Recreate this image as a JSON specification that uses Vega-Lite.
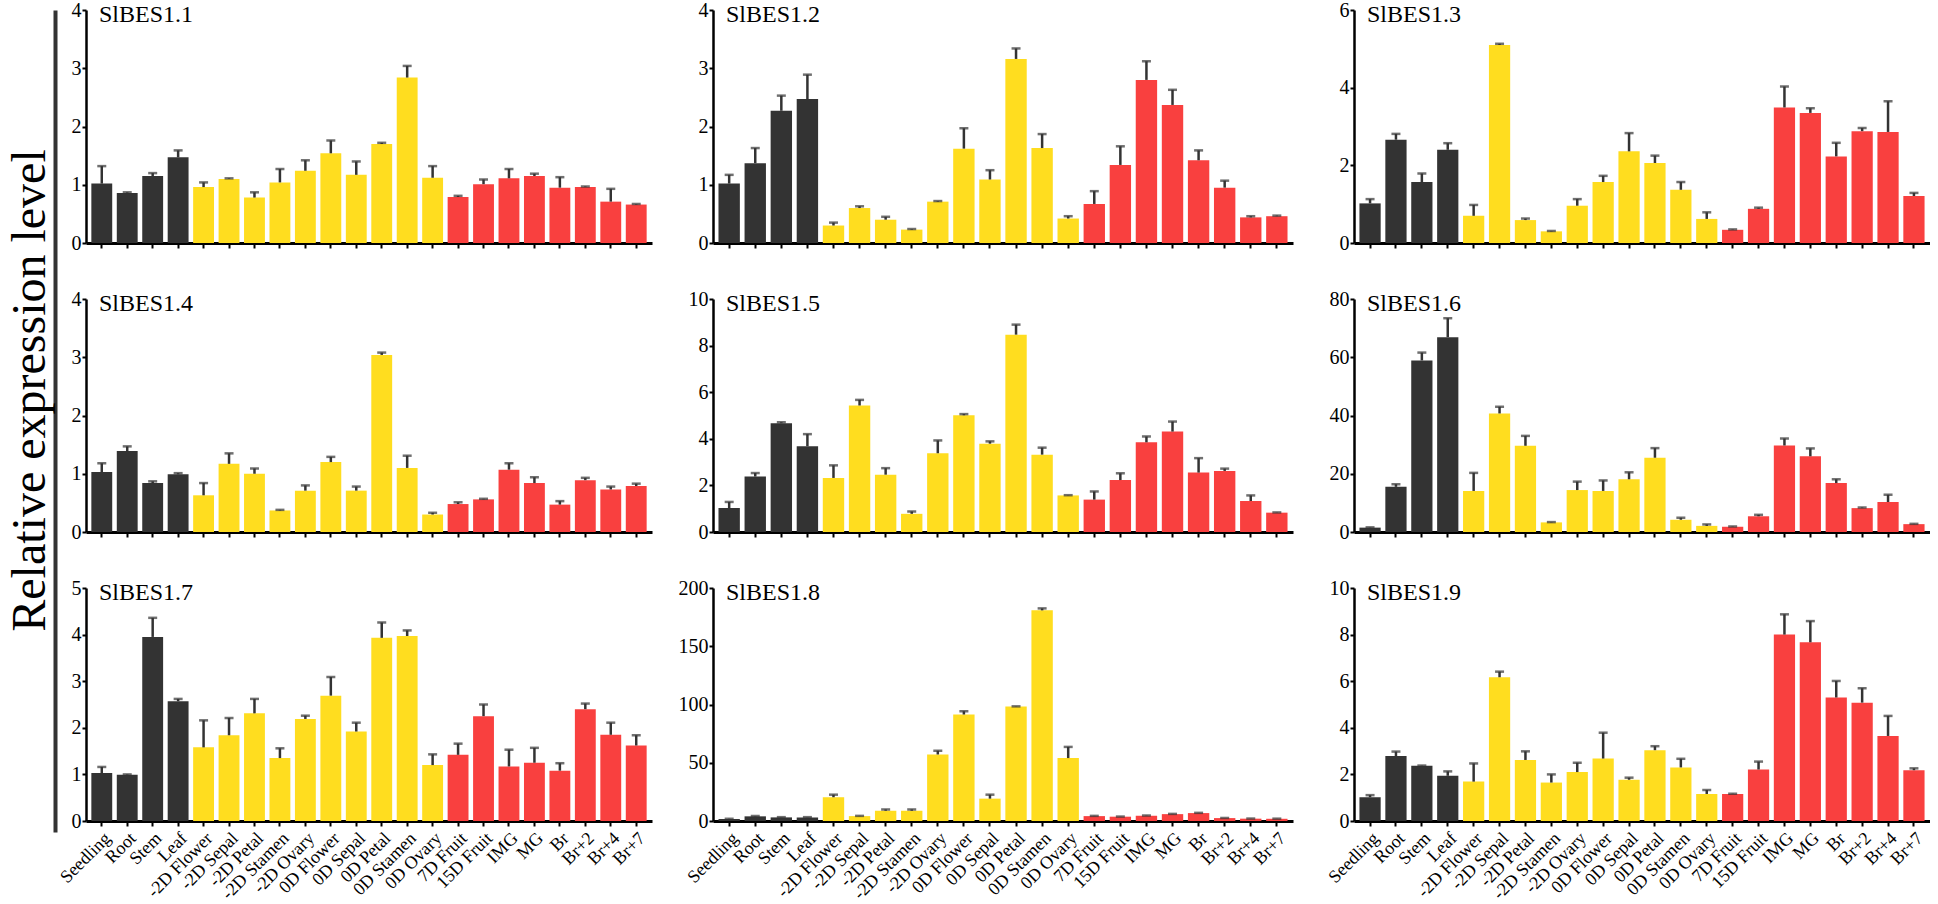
{
  "$schema": "https://vega.github.io/schema/vega-lite/v6.json",
  "padding": {"left": 6, "top": 0, "right": 0, "bottom": 0},
  "datasets": {
    "expr": [
      {"gene":"SlBES1.1","tissue":"Seedling","group":"Vegetative","value":1.02,"upper":1.32},
      {"gene":"SlBES1.1","tissue":"Root","group":"Vegetative","value":0.86,"upper":0.87},
      {"gene":"SlBES1.1","tissue":"Stem","group":"Vegetative","value":1.15,"upper":1.20},
      {"gene":"SlBES1.1","tissue":"Leaf","group":"Vegetative","value":1.47,"upper":1.59},
      {"gene":"SlBES1.1","tissue":"-2D Flower","group":"Flower","value":0.96,"upper":1.04},
      {"gene":"SlBES1.1","tissue":"-2D Sepal","group":"Flower","value":1.10,"upper":1.11},
      {"gene":"SlBES1.1","tissue":"-2D Petal","group":"Flower","value":0.78,"upper":0.87},
      {"gene":"SlBES1.1","tissue":"-2D Stamen","group":"Flower","value":1.04,"upper":1.27},
      {"gene":"SlBES1.1","tissue":"-2D Ovary","group":"Flower","value":1.24,"upper":1.42},
      {"gene":"SlBES1.1","tissue":"0D Flower","group":"Flower","value":1.54,"upper":1.76},
      {"gene":"SlBES1.1","tissue":"0D Sepal","group":"Flower","value":1.17,"upper":1.40},
      {"gene":"SlBES1.1","tissue":"0D Petal","group":"Flower","value":1.70,"upper":1.72},
      {"gene":"SlBES1.1","tissue":"0D Stamen","group":"Flower","value":2.84,"upper":3.04},
      {"gene":"SlBES1.1","tissue":"0D Ovary","group":"Flower","value":1.12,"upper":1.32},
      {"gene":"SlBES1.1","tissue":"7D Fruit","group":"Fruit","value":0.79,"upper":0.81},
      {"gene":"SlBES1.1","tissue":"15D Fruit","group":"Fruit","value":1.01,"upper":1.09},
      {"gene":"SlBES1.1","tissue":"IMG","group":"Fruit","value":1.11,"upper":1.27},
      {"gene":"SlBES1.1","tissue":"MG","group":"Fruit","value":1.15,"upper":1.19},
      {"gene":"SlBES1.1","tissue":"Br","group":"Fruit","value":0.95,"upper":1.13},
      {"gene":"SlBES1.1","tissue":"Br+2","group":"Fruit","value":0.96,"upper":0.97},
      {"gene":"SlBES1.1","tissue":"Br+4","group":"Fruit","value":0.71,"upper":0.93},
      {"gene":"SlBES1.1","tissue":"Br+7","group":"Fruit","value":0.66,"upper":0.67},

      {"gene":"SlBES1.2","tissue":"Seedling","group":"Vegetative","value":1.02,"upper":1.17},
      {"gene":"SlBES1.2","tissue":"Root","group":"Vegetative","value":1.37,"upper":1.63},
      {"gene":"SlBES1.2","tissue":"Stem","group":"Vegetative","value":2.27,"upper":2.53},
      {"gene":"SlBES1.2","tissue":"Leaf","group":"Vegetative","value":2.47,"upper":2.89},
      {"gene":"SlBES1.2","tissue":"-2D Flower","group":"Flower","value":0.30,"upper":0.35},
      {"gene":"SlBES1.2","tissue":"-2D Sepal","group":"Flower","value":0.60,"upper":0.63},
      {"gene":"SlBES1.2","tissue":"-2D Petal","group":"Flower","value":0.40,"upper":0.45},
      {"gene":"SlBES1.2","tissue":"-2D Stamen","group":"Flower","value":0.23,"upper":0.24},
      {"gene":"SlBES1.2","tissue":"-2D Ovary","group":"Flower","value":0.71,"upper":0.72},
      {"gene":"SlBES1.2","tissue":"0D Flower","group":"Flower","value":1.62,"upper":1.97},
      {"gene":"SlBES1.2","tissue":"0D Sepal","group":"Flower","value":1.09,"upper":1.25},
      {"gene":"SlBES1.2","tissue":"0D Petal","group":"Flower","value":3.16,"upper":3.34},
      {"gene":"SlBES1.2","tissue":"0D Stamen","group":"Flower","value":1.63,"upper":1.87},
      {"gene":"SlBES1.2","tissue":"0D Ovary","group":"Flower","value":0.42,"upper":0.46},
      {"gene":"SlBES1.2","tissue":"7D Fruit","group":"Fruit","value":0.67,"upper":0.89},
      {"gene":"SlBES1.2","tissue":"15D Fruit","group":"Fruit","value":1.34,"upper":1.66},
      {"gene":"SlBES1.2","tissue":"IMG","group":"Fruit","value":2.80,"upper":3.12},
      {"gene":"SlBES1.2","tissue":"MG","group":"Fruit","value":2.37,"upper":2.63},
      {"gene":"SlBES1.2","tissue":"Br","group":"Fruit","value":1.42,"upper":1.59},
      {"gene":"SlBES1.2","tissue":"Br+2","group":"Fruit","value":0.95,"upper":1.07},
      {"gene":"SlBES1.2","tissue":"Br+4","group":"Fruit","value":0.44,"upper":0.46},
      {"gene":"SlBES1.2","tissue":"Br+7","group":"Fruit","value":0.46,"upper":0.47},

      {"gene":"SlBES1.3","tissue":"Seedling","group":"Vegetative","value":1.02,"upper":1.13},
      {"gene":"SlBES1.3","tissue":"Root","group":"Vegetative","value":2.66,"upper":2.81},
      {"gene":"SlBES1.3","tissue":"Stem","group":"Vegetative","value":1.57,"upper":1.79},
      {"gene":"SlBES1.3","tissue":"Leaf","group":"Vegetative","value":2.40,"upper":2.57},
      {"gene":"SlBES1.3","tissue":"-2D Flower","group":"Flower","value":0.70,"upper":0.98},
      {"gene":"SlBES1.3","tissue":"-2D Sepal","group":"Flower","value":5.10,"upper":5.13},
      {"gene":"SlBES1.3","tissue":"-2D Petal","group":"Flower","value":0.59,"upper":0.63},
      {"gene":"SlBES1.3","tissue":"-2D Stamen","group":"Flower","value":0.30,"upper":0.31},
      {"gene":"SlBES1.3","tissue":"-2D Ovary","group":"Flower","value":0.96,"upper":1.13},
      {"gene":"SlBES1.3","tissue":"0D Flower","group":"Flower","value":1.57,"upper":1.73},
      {"gene":"SlBES1.3","tissue":"0D Sepal","group":"Flower","value":2.36,"upper":2.83},
      {"gene":"SlBES1.3","tissue":"0D Petal","group":"Flower","value":2.06,"upper":2.25},
      {"gene":"SlBES1.3","tissue":"0D Stamen","group":"Flower","value":1.37,"upper":1.57},
      {"gene":"SlBES1.3","tissue":"0D Ovary","group":"Flower","value":0.62,"upper":0.79},
      {"gene":"SlBES1.3","tissue":"7D Fruit","group":"Fruit","value":0.34,"upper":0.35},
      {"gene":"SlBES1.3","tissue":"15D Fruit","group":"Fruit","value":0.88,"upper":0.91},
      {"gene":"SlBES1.3","tissue":"IMG","group":"Fruit","value":3.49,"upper":4.03},
      {"gene":"SlBES1.3","tissue":"MG","group":"Fruit","value":3.35,"upper":3.47},
      {"gene":"SlBES1.3","tissue":"Br","group":"Fruit","value":2.23,"upper":2.58},
      {"gene":"SlBES1.3","tissue":"Br+2","group":"Fruit","value":2.88,"upper":2.96},
      {"gene":"SlBES1.3","tissue":"Br+4","group":"Fruit","value":2.86,"upper":3.65},
      {"gene":"SlBES1.3","tissue":"Br+7","group":"Fruit","value":1.21,"upper":1.29},

      {"gene":"SlBES1.4","tissue":"Seedling","group":"Vegetative","value":1.03,"upper":1.18},
      {"gene":"SlBES1.4","tissue":"Root","group":"Vegetative","value":1.39,"upper":1.47},
      {"gene":"SlBES1.4","tissue":"Stem","group":"Vegetative","value":0.84,"upper":0.87},
      {"gene":"SlBES1.4","tissue":"Leaf","group":"Vegetative","value":0.99,"upper":1.01},
      {"gene":"SlBES1.4","tissue":"-2D Flower","group":"Flower","value":0.63,"upper":0.84},
      {"gene":"SlBES1.4","tissue":"-2D Sepal","group":"Flower","value":1.17,"upper":1.35},
      {"gene":"SlBES1.4","tissue":"-2D Petal","group":"Flower","value":1.00,"upper":1.09},
      {"gene":"SlBES1.4","tissue":"-2D Stamen","group":"Flower","value":0.37,"upper":0.38},
      {"gene":"SlBES1.4","tissue":"-2D Ovary","group":"Flower","value":0.71,"upper":0.80},
      {"gene":"SlBES1.4","tissue":"0D Flower","group":"Flower","value":1.20,"upper":1.29},
      {"gene":"SlBES1.4","tissue":"0D Sepal","group":"Flower","value":0.71,"upper":0.78},
      {"gene":"SlBES1.4","tissue":"0D Petal","group":"Flower","value":3.04,"upper":3.08},
      {"gene":"SlBES1.4","tissue":"0D Stamen","group":"Flower","value":1.10,"upper":1.31},
      {"gene":"SlBES1.4","tissue":"0D Ovary","group":"Flower","value":0.30,"upper":0.33},
      {"gene":"SlBES1.4","tissue":"7D Fruit","group":"Fruit","value":0.48,"upper":0.51},
      {"gene":"SlBES1.4","tissue":"15D Fruit","group":"Fruit","value":0.56,"upper":0.57},
      {"gene":"SlBES1.4","tissue":"IMG","group":"Fruit","value":1.07,"upper":1.18},
      {"gene":"SlBES1.4","tissue":"MG","group":"Fruit","value":0.84,"upper":0.94},
      {"gene":"SlBES1.4","tissue":"Br","group":"Fruit","value":0.47,"upper":0.53},
      {"gene":"SlBES1.4","tissue":"Br+2","group":"Fruit","value":0.89,"upper":0.93},
      {"gene":"SlBES1.4","tissue":"Br+4","group":"Fruit","value":0.73,"upper":0.78},
      {"gene":"SlBES1.4","tissue":"Br+7","group":"Fruit","value":0.79,"upper":0.83},

      {"gene":"SlBES1.5","tissue":"Seedling","group":"Vegetative","value":1.03,"upper":1.29},
      {"gene":"SlBES1.5","tissue":"Root","group":"Vegetative","value":2.38,"upper":2.53},
      {"gene":"SlBES1.5","tissue":"Stem","group":"Vegetative","value":4.67,"upper":4.71},
      {"gene":"SlBES1.5","tissue":"Leaf","group":"Vegetative","value":3.68,"upper":4.20},
      {"gene":"SlBES1.5","tissue":"-2D Flower","group":"Flower","value":2.32,"upper":2.86},
      {"gene":"SlBES1.5","tissue":"-2D Sepal","group":"Flower","value":5.43,"upper":5.67},
      {"gene":"SlBES1.5","tissue":"-2D Petal","group":"Flower","value":2.46,"upper":2.74},
      {"gene":"SlBES1.5","tissue":"-2D Stamen","group":"Flower","value":0.78,"upper":0.88},
      {"gene":"SlBES1.5","tissue":"-2D Ovary","group":"Flower","value":3.38,"upper":3.93},
      {"gene":"SlBES1.5","tissue":"0D Flower","group":"Flower","value":5.01,"upper":5.06},
      {"gene":"SlBES1.5","tissue":"0D Sepal","group":"Flower","value":3.79,"upper":3.89},
      {"gene":"SlBES1.5","tissue":"0D Petal","group":"Flower","value":8.47,"upper":8.90},
      {"gene":"SlBES1.5","tissue":"0D Stamen","group":"Flower","value":3.32,"upper":3.62},
      {"gene":"SlBES1.5","tissue":"0D Ovary","group":"Flower","value":1.57,"upper":1.58},
      {"gene":"SlBES1.5","tissue":"7D Fruit","group":"Fruit","value":1.39,"upper":1.74},
      {"gene":"SlBES1.5","tissue":"15D Fruit","group":"Fruit","value":2.23,"upper":2.52},
      {"gene":"SlBES1.5","tissue":"IMG","group":"Fruit","value":3.85,"upper":4.10},
      {"gene":"SlBES1.5","tissue":"MG","group":"Fruit","value":4.31,"upper":4.74},
      {"gene":"SlBES1.5","tissue":"Br","group":"Fruit","value":2.55,"upper":3.17},
      {"gene":"SlBES1.5","tissue":"Br+2","group":"Fruit","value":2.62,"upper":2.72},
      {"gene":"SlBES1.5","tissue":"Br+4","group":"Fruit","value":1.33,"upper":1.57},
      {"gene":"SlBES1.5","tissue":"Br+7","group":"Fruit","value":0.83,"upper":0.84},

      {"gene":"SlBES1.6","tissue":"Seedling","group":"Vegetative","value":1.5,"upper":1.6},
      {"gene":"SlBES1.6","tissue":"Root","group":"Vegetative","value":15.5,"upper":16.4},
      {"gene":"SlBES1.6","tissue":"Stem","group":"Vegetative","value":58.9,"upper":61.6},
      {"gene":"SlBES1.6","tissue":"Leaf","group":"Vegetative","value":66.9,"upper":73.4},
      {"gene":"SlBES1.6","tissue":"-2D Flower","group":"Flower","value":14.1,"upper":20.3},
      {"gene":"SlBES1.6","tissue":"-2D Sepal","group":"Flower","value":40.7,"upper":43.0},
      {"gene":"SlBES1.6","tissue":"-2D Petal","group":"Flower","value":29.6,"upper":33.0},
      {"gene":"SlBES1.6","tissue":"-2D Stamen","group":"Flower","value":3.3,"upper":3.4},
      {"gene":"SlBES1.6","tissue":"-2D Ovary","group":"Flower","value":14.4,"upper":17.3},
      {"gene":"SlBES1.6","tissue":"0D Flower","group":"Flower","value":14.1,"upper":17.7},
      {"gene":"SlBES1.6","tissue":"0D Sepal","group":"Flower","value":18.1,"upper":20.5},
      {"gene":"SlBES1.6","tissue":"0D Petal","group":"Flower","value":25.5,"upper":28.8},
      {"gene":"SlBES1.6","tissue":"0D Stamen","group":"Flower","value":4.2,"upper":4.9},
      {"gene":"SlBES1.6","tissue":"0D Ovary","group":"Flower","value":2.1,"upper":2.6},
      {"gene":"SlBES1.6","tissue":"7D Fruit","group":"Fruit","value":1.8,"upper":1.9},
      {"gene":"SlBES1.6","tissue":"15D Fruit","group":"Fruit","value":5.4,"upper":5.9},
      {"gene":"SlBES1.6","tissue":"IMG","group":"Fruit","value":29.7,"upper":32.1},
      {"gene":"SlBES1.6","tissue":"MG","group":"Fruit","value":26.0,"upper":28.7},
      {"gene":"SlBES1.6","tissue":"Br","group":"Fruit","value":16.8,"upper":18.1},
      {"gene":"SlBES1.6","tissue":"Br+2","group":"Fruit","value":8.2,"upper":8.4},
      {"gene":"SlBES1.6","tissue":"Br+4","group":"Fruit","value":10.3,"upper":12.8},
      {"gene":"SlBES1.6","tissue":"Br+7","group":"Fruit","value":2.7,"upper":2.8},

      {"gene":"SlBES1.7","tissue":"Seedling","group":"Vegetative","value":1.03,"upper":1.16},
      {"gene":"SlBES1.7","tissue":"Root","group":"Vegetative","value":0.99,"upper":1.00},
      {"gene":"SlBES1.7","tissue":"Stem","group":"Vegetative","value":3.95,"upper":4.36},
      {"gene":"SlBES1.7","tissue":"Leaf","group":"Vegetative","value":2.57,"upper":2.62},
      {"gene":"SlBES1.7","tissue":"-2D Flower","group":"Flower","value":1.58,"upper":2.16},
      {"gene":"SlBES1.7","tissue":"-2D Sepal","group":"Flower","value":1.84,"upper":2.21},
      {"gene":"SlBES1.7","tissue":"-2D Petal","group":"Flower","value":2.31,"upper":2.62},
      {"gene":"SlBES1.7","tissue":"-2D Stamen","group":"Flower","value":1.35,"upper":1.56},
      {"gene":"SlBES1.7","tissue":"-2D Ovary","group":"Flower","value":2.19,"upper":2.26},
      {"gene":"SlBES1.7","tissue":"0D Flower","group":"Flower","value":2.69,"upper":3.09},
      {"gene":"SlBES1.7","tissue":"0D Sepal","group":"Flower","value":1.92,"upper":2.11},
      {"gene":"SlBES1.7","tissue":"0D Petal","group":"Flower","value":3.93,"upper":4.26},
      {"gene":"SlBES1.7","tissue":"0D Stamen","group":"Flower","value":3.97,"upper":4.09},
      {"gene":"SlBES1.7","tissue":"0D Ovary","group":"Flower","value":1.20,"upper":1.43},
      {"gene":"SlBES1.7","tissue":"7D Fruit","group":"Fruit","value":1.42,"upper":1.66},
      {"gene":"SlBES1.7","tissue":"15D Fruit","group":"Fruit","value":2.25,"upper":2.50},
      {"gene":"SlBES1.7","tissue":"IMG","group":"Fruit","value":1.17,"upper":1.53},
      {"gene":"SlBES1.7","tissue":"MG","group":"Fruit","value":1.25,"upper":1.57},
      {"gene":"SlBES1.7","tissue":"Br","group":"Fruit","value":1.08,"upper":1.24},
      {"gene":"SlBES1.7","tissue":"Br+2","group":"Fruit","value":2.40,"upper":2.52},
      {"gene":"SlBES1.7","tissue":"Br+4","group":"Fruit","value":1.85,"upper":2.11},
      {"gene":"SlBES1.7","tissue":"Br+7","group":"Fruit","value":1.62,"upper":1.84},

      {"gene":"SlBES1.8","tissue":"Seedling","group":"Vegetative","value":1.7,"upper":1.9},
      {"gene":"SlBES1.8","tissue":"Root","group":"Vegetative","value":4.0,"upper":4.3},
      {"gene":"SlBES1.8","tissue":"Stem","group":"Vegetative","value":3.1,"upper":3.3},
      {"gene":"SlBES1.8","tissue":"Leaf","group":"Vegetative","value":3.1,"upper":3.3},
      {"gene":"SlBES1.8","tissue":"-2D Flower","group":"Flower","value":20.4,"upper":22.6},
      {"gene":"SlBES1.8","tissue":"-2D Sepal","group":"Flower","value":4.2,"upper":4.4},
      {"gene":"SlBES1.8","tissue":"-2D Petal","group":"Flower","value":8.8,"upper":9.9},
      {"gene":"SlBES1.8","tissue":"-2D Stamen","group":"Flower","value":8.8,"upper":9.9},
      {"gene":"SlBES1.8","tissue":"-2D Ovary","group":"Flower","value":57.1,"upper":60.3},
      {"gene":"SlBES1.8","tissue":"0D Flower","group":"Flower","value":91.4,"upper":94.2},
      {"gene":"SlBES1.8","tissue":"0D Sepal","group":"Flower","value":19.2,"upper":22.6},
      {"gene":"SlBES1.8","tissue":"0D Petal","group":"Flower","value":98.2,"upper":98.4},
      {"gene":"SlBES1.8","tissue":"0D Stamen","group":"Flower","value":180.8,"upper":182.5},
      {"gene":"SlBES1.8","tissue":"0D Ovary","group":"Flower","value":54.0,"upper":63.6},
      {"gene":"SlBES1.8","tissue":"7D Fruit","group":"Fruit","value":4.2,"upper":4.4},
      {"gene":"SlBES1.8","tissue":"15D Fruit","group":"Fruit","value":3.7,"upper":3.8},
      {"gene":"SlBES1.8","tissue":"IMG","group":"Fruit","value":4.5,"upper":4.7},
      {"gene":"SlBES1.8","tissue":"MG","group":"Fruit","value":5.9,"upper":6.1},
      {"gene":"SlBES1.8","tissue":"Br","group":"Fruit","value":6.8,"upper":7.0},
      {"gene":"SlBES1.8","tissue":"Br+2","group":"Fruit","value":2.5,"upper":2.6},
      {"gene":"SlBES1.8","tissue":"Br+4","group":"Fruit","value":2.0,"upper":2.1},
      {"gene":"SlBES1.8","tissue":"Br+7","group":"Fruit","value":1.9,"upper":2.0},

      {"gene":"SlBES1.9","tissue":"Seedling","group":"Vegetative","value":1.02,"upper":1.11},
      {"gene":"SlBES1.9","tissue":"Root","group":"Vegetative","value":2.79,"upper":2.98},
      {"gene":"SlBES1.9","tissue":"Stem","group":"Vegetative","value":2.37,"upper":2.38},
      {"gene":"SlBES1.9","tissue":"Leaf","group":"Vegetative","value":1.94,"upper":2.13},
      {"gene":"SlBES1.9","tissue":"-2D Flower","group":"Flower","value":1.69,"upper":2.47},
      {"gene":"SlBES1.9","tissue":"-2D Sepal","group":"Flower","value":6.17,"upper":6.41},
      {"gene":"SlBES1.9","tissue":"-2D Petal","group":"Flower","value":2.62,"upper":2.99},
      {"gene":"SlBES1.9","tissue":"-2D Stamen","group":"Flower","value":1.65,"upper":2.00},
      {"gene":"SlBES1.9","tissue":"-2D Ovary","group":"Flower","value":2.10,"upper":2.50},
      {"gene":"SlBES1.9","tissue":"0D Flower","group":"Flower","value":2.68,"upper":3.79},
      {"gene":"SlBES1.9","tissue":"0D Sepal","group":"Flower","value":1.77,"upper":1.86},
      {"gene":"SlBES1.9","tissue":"0D Petal","group":"Flower","value":3.04,"upper":3.21},
      {"gene":"SlBES1.9","tissue":"0D Stamen","group":"Flower","value":2.30,"upper":2.67},
      {"gene":"SlBES1.9","tissue":"0D Ovary","group":"Flower","value":1.16,"upper":1.33},
      {"gene":"SlBES1.9","tissue":"7D Fruit","group":"Fruit","value":1.16,"upper":1.17},
      {"gene":"SlBES1.9","tissue":"15D Fruit","group":"Fruit","value":2.21,"upper":2.55},
      {"gene":"SlBES1.9","tissue":"IMG","group":"Fruit","value":8.00,"upper":8.87},
      {"gene":"SlBES1.9","tissue":"MG","group":"Fruit","value":7.67,"upper":8.58},
      {"gene":"SlBES1.9","tissue":"Br","group":"Fruit","value":5.30,"upper":6.01},
      {"gene":"SlBES1.9","tissue":"Br+2","group":"Fruit","value":5.08,"upper":5.70},
      {"gene":"SlBES1.9","tissue":"Br+4","group":"Fruit","value":3.65,"upper":4.51},
      {"gene":"SlBES1.9","tissue":"Br+7","group":"Fruit","value":2.18,"upper":2.26}
    ]
  },
  "spacing": -3,
  "hconcat": [
    {
      "width": 1,
      "height": 822,
      "data": {"values": [{"v": 0}, {"v": 1}]},
      "mark": {"type": "point", "opacity": 0},
      "encoding": {
        "y": {
          "field": "v", "type": "quantitative",
          "scale": {"domain": [0, 1], "nice": false},
          "axis": {
            "title": "Relative expression level",
            "titleFont": "Liberation Serif", "titleFontSize": 48, "titleFontWeight": "normal",
            "titleColor": "#000000", "titlePadding": 1, "titleY": 380,
            "domain": true, "domainColor": "#333333", "domainWidth": 4,
            "ticks": false, "labels": false, "grid": false
          }
        }
      }
    },
    {
      "columns": 3,
      "bounds": "flush",
      "align": "each",
      "spacing": {"row": 56, "column": 61},
      "concat": [
        {
          "width": 566, "height": 233,
          "data": {"name": "expr"},
          "transform": [{"filter": "datum.gene === 'SlBES1.1'"}],
          "title": {"text": "SlBES1.1"},
          "encoding": {"x": {"field": "tissue", "type": "nominal", "sort": null,
            "scale": {"domain": ["Seedling","Root","Stem","Leaf","-2D Flower","-2D Sepal","-2D Petal","-2D Stamen","-2D Ovary","0D Flower","0D Sepal","0D Petal","0D Stamen","0D Ovary","7D Fruit","15D Fruit","IMG","MG","Br","Br+2","Br+4","Br+7"], "paddingInner": 0.18, "paddingOuter": 0.21},
            "axis": {"labels": false, "title": null}}},
          "layer": [
            {"mark": {"type": "bar"}, "encoding": {
              "y": {"field": "value", "type": "quantitative", "scale": {"domain": [0, 4], "nice": false}, "axis": {"values": [0, 1, 2, 3, 4], "title": null}},
              "color": {"field": "group", "type": "nominal", "scale": {"domain": ["Vegetative", "Flower", "Fruit"], "range": ["#333333", "#FFDD1F", "#F9403F"]}, "legend": null}}},
            {"mark": {"type": "rule", "color": "#333333", "strokeWidth": 2.5}, "encoding": {"y": {"field": "value", "type": "quantitative", "axis": {"values": [0, 1, 2, 3, 4], "title": null}}, "y2": {"field": "upper"}}},
            {"mark": {"type": "tick", "color": "#333333", "thickness": 2.5, "size": 9}, "encoding": {"y": {"field": "upper", "type": "quantitative", "axis": {"values": [0, 1, 2, 3, 4], "title": null}}}}
          ]
        },
        {
          "width": 580, "height": 233,
          "data": {"name": "expr"},
          "transform": [{"filter": "datum.gene === 'SlBES1.2'"}],
          "title": {"text": "SlBES1.2"},
          "encoding": {"x": {"field": "tissue", "type": "nominal", "sort": null,
            "scale": {"domain": ["Seedling","Root","Stem","Leaf","-2D Flower","-2D Sepal","-2D Petal","-2D Stamen","-2D Ovary","0D Flower","0D Sepal","0D Petal","0D Stamen","0D Ovary","7D Fruit","15D Fruit","IMG","MG","Br","Br+2","Br+4","Br+7"], "paddingInner": 0.18, "paddingOuter": 0.21},
            "axis": {"labels": false, "title": null}}},
          "layer": [
            {"mark": {"type": "bar"}, "encoding": {
              "y": {"field": "value", "type": "quantitative", "scale": {"domain": [0, 4], "nice": false}, "axis": {"values": [0, 1, 2, 3, 4], "title": null}},
              "color": {"field": "group", "type": "nominal", "scale": {"domain": ["Vegetative", "Flower", "Fruit"], "range": ["#333333", "#FFDD1F", "#F9403F"]}, "legend": null}}},
            {"mark": {"type": "rule", "color": "#333333", "strokeWidth": 2.5}, "encoding": {"y": {"field": "value", "type": "quantitative", "axis": {"values": [0, 1, 2, 3, 4], "title": null}}, "y2": {"field": "upper"}}},
            {"mark": {"type": "tick", "color": "#333333", "thickness": 2.5, "size": 9}, "encoding": {"y": {"field": "upper", "type": "quantitative", "axis": {"values": [0, 1, 2, 3, 4], "title": null}}}}
          ]
        },
        {
          "width": 576, "height": 233,
          "data": {"name": "expr"},
          "transform": [{"filter": "datum.gene === 'SlBES1.3'"}],
          "title": {"text": "SlBES1.3"},
          "encoding": {"x": {"field": "tissue", "type": "nominal", "sort": null,
            "scale": {"domain": ["Seedling","Root","Stem","Leaf","-2D Flower","-2D Sepal","-2D Petal","-2D Stamen","-2D Ovary","0D Flower","0D Sepal","0D Petal","0D Stamen","0D Ovary","7D Fruit","15D Fruit","IMG","MG","Br","Br+2","Br+4","Br+7"], "paddingInner": 0.18, "paddingOuter": 0.21},
            "axis": {"labels": false, "title": null}}},
          "layer": [
            {"mark": {"type": "bar"}, "encoding": {
              "y": {"field": "value", "type": "quantitative", "scale": {"domain": [0, 6], "nice": false}, "axis": {"values": [0, 2, 4, 6], "title": null}},
              "color": {"field": "group", "type": "nominal", "scale": {"domain": ["Vegetative", "Flower", "Fruit"], "range": ["#333333", "#FFDD1F", "#F9403F"]}, "legend": null}}},
            {"mark": {"type": "rule", "color": "#333333", "strokeWidth": 2.5}, "encoding": {"y": {"field": "value", "type": "quantitative", "axis": {"values": [0, 2, 4, 6], "title": null}}, "y2": {"field": "upper"}}},
            {"mark": {"type": "tick", "color": "#333333", "thickness": 2.5, "size": 9}, "encoding": {"y": {"field": "upper", "type": "quantitative", "axis": {"values": [0, 2, 4, 6], "title": null}}}}
          ]
        },
        {
          "width": 566, "height": 233,
          "data": {"name": "expr"},
          "transform": [{"filter": "datum.gene === 'SlBES1.4'"}],
          "title": {"text": "SlBES1.4"},
          "encoding": {"x": {"field": "tissue", "type": "nominal", "sort": null,
            "scale": {"domain": ["Seedling","Root","Stem","Leaf","-2D Flower","-2D Sepal","-2D Petal","-2D Stamen","-2D Ovary","0D Flower","0D Sepal","0D Petal","0D Stamen","0D Ovary","7D Fruit","15D Fruit","IMG","MG","Br","Br+2","Br+4","Br+7"], "paddingInner": 0.18, "paddingOuter": 0.21},
            "axis": {"labels": false, "title": null}}},
          "layer": [
            {"mark": {"type": "bar"}, "encoding": {
              "y": {"field": "value", "type": "quantitative", "scale": {"domain": [0, 4], "nice": false}, "axis": {"values": [0, 1, 2, 3, 4], "title": null}},
              "color": {"field": "group", "type": "nominal", "scale": {"domain": ["Vegetative", "Flower", "Fruit"], "range": ["#333333", "#FFDD1F", "#F9403F"]}, "legend": null}}},
            {"mark": {"type": "rule", "color": "#333333", "strokeWidth": 2.5}, "encoding": {"y": {"field": "value", "type": "quantitative", "axis": {"values": [0, 1, 2, 3, 4], "title": null}}, "y2": {"field": "upper"}}},
            {"mark": {"type": "tick", "color": "#333333", "thickness": 2.5, "size": 9}, "encoding": {"y": {"field": "upper", "type": "quantitative", "axis": {"values": [0, 1, 2, 3, 4], "title": null}}}}
          ]
        },
        {
          "width": 580, "height": 233,
          "data": {"name": "expr"},
          "transform": [{"filter": "datum.gene === 'SlBES1.5'"}],
          "title": {"text": "SlBES1.5"},
          "encoding": {"x": {"field": "tissue", "type": "nominal", "sort": null,
            "scale": {"domain": ["Seedling","Root","Stem","Leaf","-2D Flower","-2D Sepal","-2D Petal","-2D Stamen","-2D Ovary","0D Flower","0D Sepal","0D Petal","0D Stamen","0D Ovary","7D Fruit","15D Fruit","IMG","MG","Br","Br+2","Br+4","Br+7"], "paddingInner": 0.18, "paddingOuter": 0.21},
            "axis": {"labels": false, "title": null}}},
          "layer": [
            {"mark": {"type": "bar"}, "encoding": {
              "y": {"field": "value", "type": "quantitative", "scale": {"domain": [0, 10], "nice": false}, "axis": {"values": [0, 2, 4, 6, 8, 10], "title": null}},
              "color": {"field": "group", "type": "nominal", "scale": {"domain": ["Vegetative", "Flower", "Fruit"], "range": ["#333333", "#FFDD1F", "#F9403F"]}, "legend": null}}},
            {"mark": {"type": "rule", "color": "#333333", "strokeWidth": 2.5}, "encoding": {"y": {"field": "value", "type": "quantitative", "axis": {"values": [0, 2, 4, 6, 8, 10], "title": null}}, "y2": {"field": "upper"}}},
            {"mark": {"type": "tick", "color": "#333333", "thickness": 2.5, "size": 9}, "encoding": {"y": {"field": "upper", "type": "quantitative", "axis": {"values": [0, 2, 4, 6, 8, 10], "title": null}}}}
          ]
        },
        {
          "width": 576, "height": 233,
          "data": {"name": "expr"},
          "transform": [{"filter": "datum.gene === 'SlBES1.6'"}],
          "title": {"text": "SlBES1.6"},
          "encoding": {"x": {"field": "tissue", "type": "nominal", "sort": null,
            "scale": {"domain": ["Seedling","Root","Stem","Leaf","-2D Flower","-2D Sepal","-2D Petal","-2D Stamen","-2D Ovary","0D Flower","0D Sepal","0D Petal","0D Stamen","0D Ovary","7D Fruit","15D Fruit","IMG","MG","Br","Br+2","Br+4","Br+7"], "paddingInner": 0.18, "paddingOuter": 0.21},
            "axis": {"labels": false, "title": null}}},
          "layer": [
            {"mark": {"type": "bar"}, "encoding": {
              "y": {"field": "value", "type": "quantitative", "scale": {"domain": [0, 80], "nice": false}, "axis": {"values": [0, 20, 40, 60, 80], "title": null}},
              "color": {"field": "group", "type": "nominal", "scale": {"domain": ["Vegetative", "Flower", "Fruit"], "range": ["#333333", "#FFDD1F", "#F9403F"]}, "legend": null}}},
            {"mark": {"type": "rule", "color": "#333333", "strokeWidth": 2.5}, "encoding": {"y": {"field": "value", "type": "quantitative", "axis": {"values": [0, 20, 40, 60, 80], "title": null}}, "y2": {"field": "upper"}}},
            {"mark": {"type": "tick", "color": "#333333", "thickness": 2.5, "size": 9}, "encoding": {"y": {"field": "upper", "type": "quantitative", "axis": {"values": [0, 20, 40, 60, 80], "title": null}}}}
          ]
        },
        {
          "width": 566, "height": 233,
          "data": {"name": "expr"},
          "transform": [{"filter": "datum.gene === 'SlBES1.7'"}],
          "title": {"text": "SlBES1.7"},
          "encoding": {"x": {"field": "tissue", "type": "nominal", "sort": null,
            "scale": {"domain": ["Seedling","Root","Stem","Leaf","-2D Flower","-2D Sepal","-2D Petal","-2D Stamen","-2D Ovary","0D Flower","0D Sepal","0D Petal","0D Stamen","0D Ovary","7D Fruit","15D Fruit","IMG","MG","Br","Br+2","Br+4","Br+7"], "paddingInner": 0.18, "paddingOuter": 0.21},
            "axis": {"labels": true, "title": null}}},
          "layer": [
            {"mark": {"type": "bar"}, "encoding": {
              "y": {"field": "value", "type": "quantitative", "scale": {"domain": [0, 5], "nice": false}, "axis": {"values": [0, 1, 2, 3, 4, 5], "title": null}},
              "color": {"field": "group", "type": "nominal", "scale": {"domain": ["Vegetative", "Flower", "Fruit"], "range": ["#333333", "#FFDD1F", "#F9403F"]}, "legend": null}}},
            {"mark": {"type": "rule", "color": "#333333", "strokeWidth": 2.5}, "encoding": {"y": {"field": "value", "type": "quantitative", "axis": {"values": [0, 1, 2, 3, 4, 5], "title": null}}, "y2": {"field": "upper"}}},
            {"mark": {"type": "tick", "color": "#333333", "thickness": 2.5, "size": 9}, "encoding": {"y": {"field": "upper", "type": "quantitative", "axis": {"values": [0, 1, 2, 3, 4, 5], "title": null}}}}
          ]
        },
        {
          "width": 580, "height": 233,
          "data": {"name": "expr"},
          "transform": [{"filter": "datum.gene === 'SlBES1.8'"}],
          "title": {"text": "SlBES1.8"},
          "encoding": {"x": {"field": "tissue", "type": "nominal", "sort": null,
            "scale": {"domain": ["Seedling","Root","Stem","Leaf","-2D Flower","-2D Sepal","-2D Petal","-2D Stamen","-2D Ovary","0D Flower","0D Sepal","0D Petal","0D Stamen","0D Ovary","7D Fruit","15D Fruit","IMG","MG","Br","Br+2","Br+4","Br+7"], "paddingInner": 0.18, "paddingOuter": 0.21},
            "axis": {"labels": true, "title": null}}},
          "layer": [
            {"mark": {"type": "bar"}, "encoding": {
              "y": {"field": "value", "type": "quantitative", "scale": {"domain": [0, 200], "nice": false}, "axis": {"values": [0, 50, 100, 150, 200], "title": null}},
              "color": {"field": "group", "type": "nominal", "scale": {"domain": ["Vegetative", "Flower", "Fruit"], "range": ["#333333", "#FFDD1F", "#F9403F"]}, "legend": null}}},
            {"mark": {"type": "rule", "color": "#333333", "strokeWidth": 2.5}, "encoding": {"y": {"field": "value", "type": "quantitative", "axis": {"values": [0, 50, 100, 150, 200], "title": null}}, "y2": {"field": "upper"}}},
            {"mark": {"type": "tick", "color": "#333333", "thickness": 2.5, "size": 9}, "encoding": {"y": {"field": "upper", "type": "quantitative", "axis": {"values": [0, 50, 100, 150, 200], "title": null}}}}
          ]
        },
        {
          "width": 576, "height": 233,
          "data": {"name": "expr"},
          "transform": [{"filter": "datum.gene === 'SlBES1.9'"}],
          "title": {"text": "SlBES1.9"},
          "encoding": {"x": {"field": "tissue", "type": "nominal", "sort": null,
            "scale": {"domain": ["Seedling","Root","Stem","Leaf","-2D Flower","-2D Sepal","-2D Petal","-2D Stamen","-2D Ovary","0D Flower","0D Sepal","0D Petal","0D Stamen","0D Ovary","7D Fruit","15D Fruit","IMG","MG","Br","Br+2","Br+4","Br+7"], "paddingInner": 0.18, "paddingOuter": 0.21},
            "axis": {"labels": true, "title": null}}},
          "layer": [
            {"mark": {"type": "bar"}, "encoding": {
              "y": {"field": "value", "type": "quantitative", "scale": {"domain": [0, 10], "nice": false}, "axis": {"values": [0, 2, 4, 6, 8, 10], "title": null}},
              "color": {"field": "group", "type": "nominal", "scale": {"domain": ["Vegetative", "Flower", "Fruit"], "range": ["#333333", "#FFDD1F", "#F9403F"]}, "legend": null}}},
            {"mark": {"type": "rule", "color": "#333333", "strokeWidth": 2.5}, "encoding": {"y": {"field": "value", "type": "quantitative", "axis": {"values": [0, 2, 4, 6, 8, 10], "title": null}}, "y2": {"field": "upper"}}},
            {"mark": {"type": "tick", "color": "#333333", "thickness": 2.5, "size": 9}, "encoding": {"y": {"field": "upper", "type": "quantitative", "axis": {"values": [0, 2, 4, 6, 8, 10], "title": null}}}}
          ]
        }
      ]
    }
  ],
  "config": {
    "view": {"stroke": null},
    "font": "Liberation Serif",
    "title": {"anchor": "start", "frame": "group", "orient": "top", "offset": -27, "baseline": "top", "dx": 13, "fontSize": 24, "font": "Liberation Serif", "fontWeight": "normal", "color": "#000000"},
    "axisY": {"domainColor": "#000000", "domainWidth": 2.5, "tickColor": "#000000", "tickSize": 4, "tickWidth": 2, "labelFont": "Liberation Serif", "labelFontSize": 20, "labelColor": "#000000", "labelPadding": 1, "grid": false},
    "axisX": {"domainColor": "#000000", "domainWidth": 3, "tickColor": "#000000", "tickSize": 5, "tickWidth": 2, "labelFont": "Liberation Serif", "labelFontSize": 18, "labelColor": "#000000", "labelAngle": -45, "labelPadding": 3, "grid": false}
  }
}
